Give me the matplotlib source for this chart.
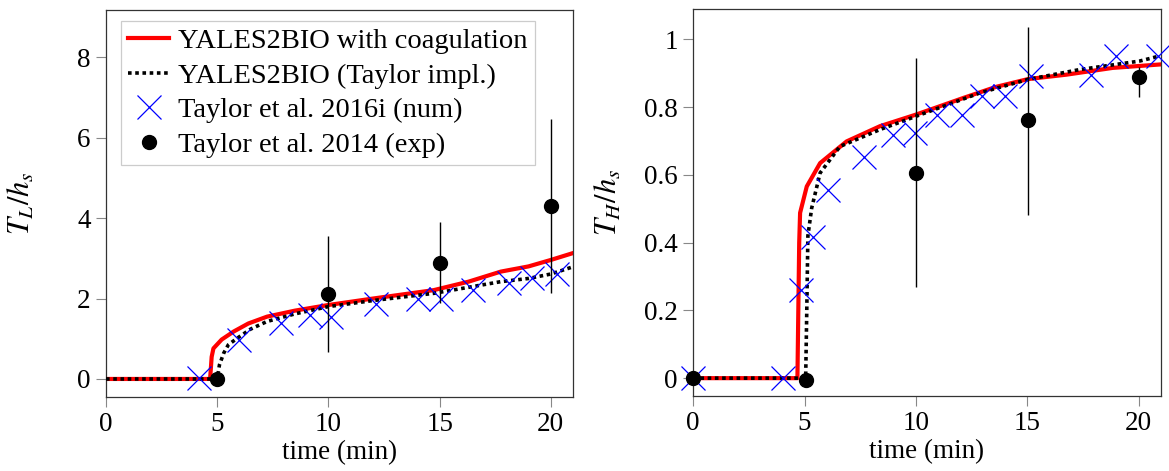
import matplotlib.pyplot as plt
import numpy as np

plt.rcParams["font.family"] = ["Liberation Serif", "DejaVu Serif"]
plt.rcParams["mathtext.fontset"] = "stix"
plt.rcParams["font.size"] = 19.5

# ---- left panel: T_L / h_s ----
left_coag_t = [0, 4.68, 4.75, 4.83, 5.2, 5.74, 6.4, 7.24, 8.5, 10.0, 12.0, 14.74, 16.3, 17.75, 19.0, 20.0, 21.05]
left_coag_v = [0, 0, 0.55, 0.76, 0.98, 1.18, 1.38, 1.55, 1.70, 1.84, 2.00, 2.21, 2.42, 2.67, 2.80, 2.96, 3.14]
left_taylor_t = [0, 5.0, 5.1, 5.29, 5.5, 5.89, 6.5, 7.24, 8.5, 10.0, 12.0, 14.74, 16.3, 17.75, 19.0, 20.0, 21.0]
left_taylor_v = [0, 0, 0.35, 0.64, 0.85, 1.01, 1.24, 1.43, 1.62, 1.80, 1.95, 2.13, 2.28, 2.42, 2.50, 2.61, 2.79]
left_num_t = [4.19, 5.96, 7.88, 9.19, 10.13, 12.12, 14.04, 15.04, 16.5, 18.1, 19.14, 20.3]
left_num_v = [0.03, 0.97, 1.39, 1.59, 1.55, 1.87, 1.98, 2.0, 2.21, 2.38, 2.5, 2.61]
left_exp_t = [5.0, 10.0, 15.0, 20.0]
left_exp_v = [0.0, 2.11, 2.89, 4.31]
left_exp_lo = [0.0, 0.68, 1.88, 2.15]
left_exp_hi = [0.0, 3.56, 3.9, 6.47]

# ---- right panel: T_H / h_s ----
right_coag_t = [0, 4.68, 4.72, 4.76, 4.8, 5.1, 5.7, 6.89, 8.39, 10.0, 12.12, 13.6, 15.04, 16.76, 18.84, 20.94]
right_coag_v = [0, 0, 0.2, 0.4, 0.488, 0.566, 0.635, 0.699, 0.744, 0.778, 0.827, 0.86, 0.883, 0.896, 0.916, 0.926]
right_taylor_t = [0, 5.05, 5.1, 5.15, 5.32, 5.7, 6.59, 8.39, 10.0, 12.87, 15.04, 17.35, 20.04, 20.94]
right_taylor_v = [0, 0, 0.2, 0.42, 0.502, 0.606, 0.684, 0.734, 0.773, 0.842, 0.882, 0.911, 0.936, 0.951]
right_num_t = [0, 4.04, 4.83, 5.37, 6.07, 7.67, 8.98, 9.96, 10.93, 12.05, 12.95, 13.99, 15.16, 17.88, 18.97, 20.87]
right_num_v = [0, 0, 0.26, 0.418, 0.556, 0.652, 0.719, 0.724, 0.778, 0.778, 0.832, 0.832, 0.891, 0.896, 0.951, 0.951]
right_exp_t = [0.0, 5.07, 10.0, 15.04, 20.0]
right_exp_v = [0.0, -0.004, 0.607, 0.761, 0.889]
right_exp_lo = [0.0, -0.004, 0.27, 0.482, 0.83]
right_exp_hi = [0.0, -0.004, 0.946, 1.037, 0.92]


def draw_panel(ax, coag, taylor, num, exp, ylabel):
    ax.plot(*coag, color="red", lw=3.0, zorder=2,
            label="YALES2BIO with coagulation")
    ax.plot(*taylor, color="black", lw=2.6, ls=(0, (1, 1)), zorder=3,
            label="YALES2BIO (Taylor impl.)")
    ax.plot(*num, ls="none", marker="x", ms=17, mew=0.9, color="blue",
            zorder=4, clip_on=False, label="Taylor et al. 2016i (num)")
    t, v, lo, hi = (np.asarray(a) for a in exp)
    ax.errorbar(t, v, yerr=[v - lo, hi - v], fmt="none", ecolor="black",
                elinewidth=1.0, capsize=0, zorder=5)
    ax.plot(t, v, ls="none", marker="o", ms=10, color="black", zorder=6,
            clip_on=False, label="Taylor et al. 2014 (exp)")
    ax.set_xlim(0, 21)
    ax.set_xticks([0, 5, 10, 15, 20])
    ax.set_xlabel("time (min)", labelpad=2)
    ax.set_ylabel(ylabel, fontsize=22)
    ax.yaxis.set_label_coords(-0.148, 0.5)
    for s in ax.spines.values():
        s.set_color("#333333")
        s.set_linewidth(0.9)
    ax.tick_params(direction="out", length=7, width=0.8, color="#888888",
                   pad=4)


fig = plt.figure(figsize=(11.69, 4.71), dpi=100)
ax1 = fig.add_axes([0.0907, 0.157, 0.3995, 0.822])
ax2 = fig.add_axes([0.593, 0.159, 0.400, 0.822])

draw_panel(ax1, (left_coag_t, left_coag_v), (left_taylor_t, left_taylor_v),
           (left_num_t, left_num_v),
           (left_exp_t, left_exp_v, left_exp_lo, left_exp_hi), "$T_L/h_s$")
ax1.set_ylim(-0.45, 9.18)
ax1.set_yticks([0, 2, 4, 6, 8])
leg = ax1.legend(loc="upper left", bbox_to_anchor=(0.032, 0.971),
                 fontsize=20.5, fancybox=False, framealpha=1,
                 edgecolor="#cccccc", handlelength=1.45, handletextpad=0.32,
                 labelspacing=0.3, borderpad=0.25, borderaxespad=0)
leg.get_frame().set_linewidth(0.9)

draw_panel(ax2, (right_coag_t, right_coag_v), (right_taylor_t, right_taylor_v),
           (right_num_t, right_num_v),
           (right_exp_t, right_exp_v, right_exp_lo, right_exp_hi), "$T_H/h_s$")
ax2.set_ylim(-0.053, 1.09)
ax2.set_yticks([0, 0.2, 0.4, 0.6, 0.8, 1])
ax2.set_yticklabels(["0", "0.2", "0.4", "0.6", "0.8", "1"])

fig.savefig("out.png", dpi=100)
